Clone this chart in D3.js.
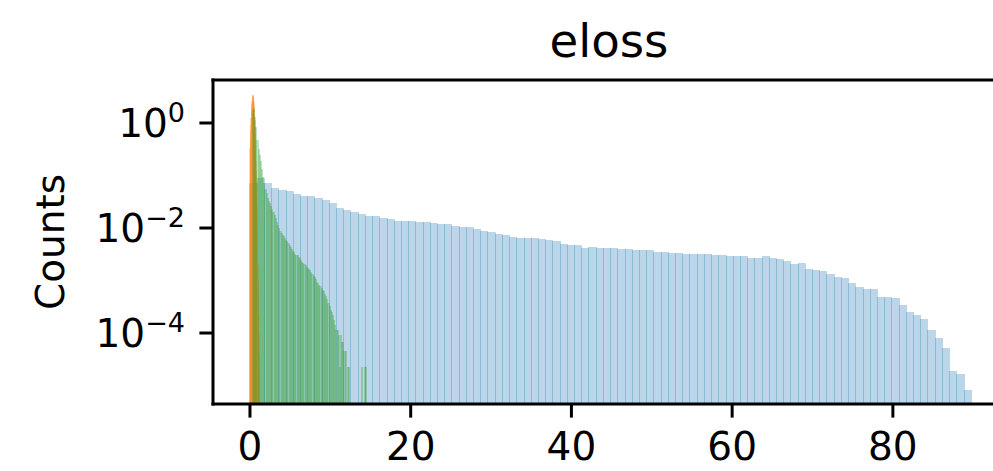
<!DOCTYPE html>
<html lang="en">
<head>
<meta charset="UTF-8">
<title>eloss</title>
<script src="https://d3js.org/d3.v7.min.js"></script>
<style>
  html, body { margin: 0; padding: 0; background: #fff; }
  svg { display: block; font-family: "DejaVu Sans", sans-serif; }
</style>
</head>
<body>
<svg id="svg" width="993" height="471"></svg>
<script>
// histogram densities (equal-width bins over each range)
const blueRange = [0, 89.75];
const blueValues = [
  0.0710, 0.0883, 0.0710, 0.0569, 0.0537, 0.0507, 0.0445, 0.0407, 0.0407, 0.0380,
  0.0341, 0.0295, 0.0237, 0.0220, 0.0200, 0.0182, 0.0172, 0.0166, 0.0153, 0.0146,
  0.0138, 0.0138, 0.0136, 0.0130, 0.0130, 0.0124, 0.0119, 0.0119, 0.0109, 0.0104,
  0.0104, 0.00957, 0.00877, 0.00839, 0.00769, 0.00741, 0.00675, 0.00646, 0.00646, 0.00646,
  0.00617, 0.00590, 0.00565, 0.00495, 0.00474, 0.00474, 0.00416, 0.00435, 0.00416, 0.00416,
  0.00416, 0.00407, 0.00398, 0.00381, 0.00381, 0.00381, 0.00349, 0.00349, 0.00334, 0.00334,
  0.00320, 0.00320, 0.00320, 0.00320, 0.00306, 0.00306, 0.00293, 0.00293, 0.00293, 0.00269,
  0.00269, 0.00293, 0.00269, 0.00257, 0.00235, 0.00206, 0.00215, 0.00166, 0.00158, 0.00152,
  0.00133, 0.00117, 0.00112, 0.000895, 0.000752, 0.000689, 0.000689, 0.000485, 0.000485, 0.000465,
  0.000341, 0.000251, 0.000220, 0.000185, 0.000114, 0.0000804, 0.0000518, 0.0000189, 0.0000166, 0.0000082
];

const orangeRange = [0, 1.2];
const orangeValues = [
  0.333, 0.484, 0.682, 0.929, 1.22, 1.56, 1.93, 2.30, 2.66, 2.97,
  3.21, 3.35, 3.39, 3.31, 3.13, 2.87, 2.54, 2.18, 1.80, 1.45,
  1.12, 0.841, 0.611, 0.429, 0.291, 0.191, 0.122, 0.0748, 0.0445, 0.0256,
  0.0143, 0.00767, 0.0040, 0.00201, 0.00098, 0.000463, 0.000211, 0.0000933, 0.0000398, 0.0000166
];

const greenRange = [0.3, 14.55];
const greenValues = [
  1.78, 1.9, 1.32, 0.83, 0.47, 0.32, 0.25, 0.19, 0.132, 0.095,
  0.071, 0.056, 0.047, 0.038, 0.033, 0.0295, 0.0263, 0.0229, 0.020, 0.0178,
  0.0155, 0.0132, 0.0112, 0.0100, 0.0089, 0.0081, 0.0074, 0.0069, 0.0065, 0.0060,
  0.0056, 0.0051, 0.0048, 0.0044, 0.0040, 0.0037, 0.00347, 0.00324, 0.0031, 0.0030,
  0.00282, 0.00263, 0.00245, 0.00229, 0.00214, 0.00204, 0.00195, 0.00182, 0.00174, 0.00165,
  0.00158, 0.00145, 0.00132, 0.00123, 0.00115, 0.00105, 0.00095, 0.00089, 0.00083, 0.00078,
  0.00071, 0.00066, 0.00062, 0.00056, 0.00050, 0.00044, 0.00037, 0.00033, 0.00028, 0.00025,
  0.00022, 0.000178, 0.000141, 0.000115, 0.000115, 0.000091, 0.000023, 0.000091, 0.000068, 0.000068,
  0.000046, 0.000046, 0, 0.000023, 0.000023, 0, 0, 0, 0, 0,
  0, 0, 0, 0, 0, 0.000023, 0, 0, 0.000023, 0.000023
];

const xTicks = [0, 20, 40, 60, 80];
const yTickExps = [0, -2, -4];

const svg = d3.select("#svg");
const axL = 213, axR = 1005, axT = 80, axB = 404;

const x = d3.scaleLinear().domain([-4.6, 94.2]).range([axL, 1007]);
const y = d3.scaleLog().domain([Math.pow(10, -5.352), Math.pow(10, 0.819)]).range([axB, axT]);

svg.append("defs").append("clipPath").attr("id", "plot")
  .append("rect").attr("x", axL).attr("y", axT).attr("width", axR - axL).attr("height", axB - axT);

const plot = svg.append("g").attr("clip-path", "url(#plot)");

function drawHist(values, range, color) {
  const w = (range[1] - range[0]) / values.length;
  const bins = values
    .map((v, i) => ({ x0: range[0] + i * w, x1: range[0] + (i + 1) * w, v }))
    .filter(d => d.v > 0);
  plot.append("g")
    .selectAll("rect")
    .data(bins)
    .join("rect")
    .attr("x", d => Math.floor(x(d.x0)))
    .attr("width", d => Math.max(1, Math.ceil(x(d.x1)) - Math.floor(x(d.x0))))
    .attr("y", d => Math.round(y(d.v)))
    .attr("height", d => axB - Math.round(y(d.v)))
    .attr("fill", color)
    .attr("fill-opacity", 0.3)
    .attr("shape-rendering", "crispEdges");
}

drawHist(blueValues, blueRange, "#1f77b4");
drawHist(orangeValues, orangeRange, "#ff7f0e");
drawHist(greenValues, greenRange, "#2ca02c");

// spines
const spines = svg.append("g").attr("stroke", "black").attr("stroke-width", 3).attr("fill", "none");
spines.append("line").attr("x1", axL).attr("x2", axL).attr("y1", axT - 1.5).attr("y2", axB + 1.5);
spines.append("line").attr("x1", axL - 1.5).attr("x2", axR).attr("y1", axT).attr("y2", axT);
spines.append("line").attr("x1", axL - 1.5).attr("x2", axR).attr("y1", axB).attr("y2", axB);
spines.append("line").attr("x1", axR).attr("x2", axR).attr("y1", axT).attr("y2", axB);

// x ticks
const xt = svg.append("g");
xt.selectAll("line").data(xTicks).join("line")
  .attr("x1", d => x(d)).attr("x2", d => x(d))
  .attr("y1", axB).attr("y2", axB + 13.6)
  .attr("stroke", "black").attr("stroke-width", 3);
xt.selectAll("text").data(xTicks).join("text")
  .attr("x", d => x(d)).attr("y", 460)
  .attr("text-anchor", "middle")
  .attr("font-size", "39px")
  .text(d => d);

// y ticks, 10^n labels
const yt = svg.append("g");
yt.selectAll("line").data(yTickExps).join("line")
  .attr("x1", axL - 13.6).attr("x2", axL)
  .attr("y1", d => y(Math.pow(10, d))).attr("y2", d => y(Math.pow(10, d)))
  .attr("stroke", "black").attr("stroke-width", 3);
const lbl = yt.selectAll("text").data(yTickExps).join("text")
  .attr("x", 185)
  .attr("y", d => y(Math.pow(10, d)) + 14)
  .attr("text-anchor", "end")
  .attr("font-size", "39px");
lbl.append("tspan").text("10");
lbl.append("tspan").attr("dy", -15).attr("font-size", "27px")
  .text(d => d < 0 ? "\u2212" + (-d) : String(d));

// labels
svg.append("text")
  .attr("transform", `translate(64,${(axT + axB) / 2}) rotate(-90)`)
  .attr("text-anchor", "middle")
  .attr("font-size", "39px")
  .text("Counts");

svg.append("text")
  .attr("x", (axL + axR) / 2).attr("y", 57)
  .attr("text-anchor", "middle")
  .attr("font-size", "46.7px")
  .text("eloss");
</script>
</body>
</html>
